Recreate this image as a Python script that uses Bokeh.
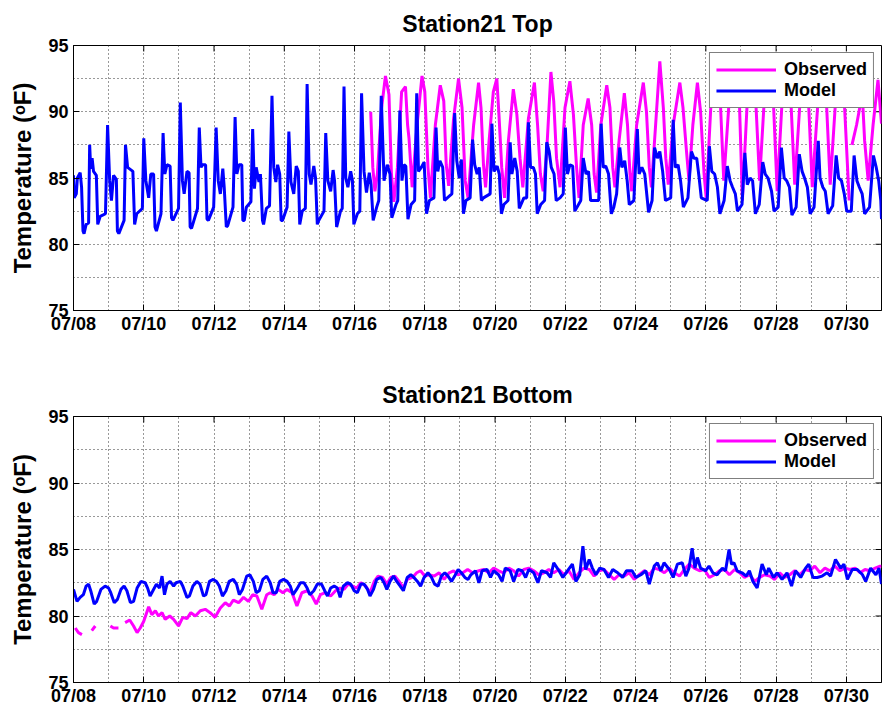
import math
from bokeh.plotting import figure
from bokeh.models import FixedTicker, Legend, LegendItem, Range1d
from bokeh.layouts import column
from bokeh.embed import file_html
from bokeh.resources import INLINE

nan = float("nan")

# ---- axis ticks (x is day of July) ----
x_start, x_end = 8, 31
t_low, t_high = 75, 95
date_ticks = [8, 10, 12, 14, 16, 18, 20, 22, 24, 26, 28, 30]
date_labels = ["07/08", "07/10", "07/12", "07/14", "07/16", "07/18",
               "07/20", "07/22", "07/24", "07/26", "07/28", "07/30"]
day_grid = list(range(9, 31))
temp_ticks = [75, 80, 85, 90, 95]
temp_grid = [77.5, 80, 82.5, 85, 87.5, 90, 92.5]

# ---- Station21 Top: model ----
top_model_t = [
    8.00, 8.02, 8.08, 8.11, 8.19, 8.23, 8.27, 8.30, 8.36, 8.43, 8.46, 8.49, 8.53, 8.57, 8.65,
    8.69, 8.76, 8.91, 8.97, 9.03, 9.08, 9.14, 9.22, 9.25, 9.29, 9.44, 9.48, 9.54, 9.69, 9.74,
    9.80, 9.96, 10.00, 10.06, 10.14, 10.20, 10.28, 10.32, 10.36, 10.49, 10.55, 10.60, 10.66,
    10.75, 10.79, 10.83, 10.99, 11.04, 11.10, 11.15, 11.23, 11.29, 11.32, 11.36, 11.53, 11.58,
    11.63, 11.67, 11.76, 11.80, 11.84, 11.99, 12.06, 12.12, 12.18, 12.25, 12.29, 12.35, 12.39,
    12.54, 12.60, 12.65, 12.71, 12.79, 12.82, 12.86, 12.92, 13.05, 13.10, 13.15, 13.20, 13.28,
    13.32, 13.38, 13.41, 13.49, 13.58, 13.65, 13.70, 13.76, 13.81, 13.87, 13.91, 13.95, 14.08,
    14.13, 14.19, 14.27, 14.34, 14.40, 14.44, 14.51, 14.60, 14.65, 14.71, 14.76, 14.84, 14.89,
    14.94, 14.98, 15.13, 15.18, 15.24, 15.32, 15.39, 15.43, 15.49, 15.60, 15.65, 15.70, 15.75,
    15.81, 15.89, 15.94, 15.98, 16.08, 16.15, 16.20, 16.27, 16.34, 16.42, 16.47, 16.53, 16.63,
    16.69, 16.76, 16.84, 16.93, 17.01, 17.06, 17.18, 17.23, 17.29, 17.35, 17.41, 17.46, 17.52,
    17.61, 17.71, 17.77, 17.82, 17.90, 17.98, 18.05, 18.13, 18.26, 18.32, 18.37, 18.43, 18.51,
    18.56, 18.64, 18.77, 18.85, 18.91, 18.98, 19.04, 19.10, 19.17, 19.29, 19.36, 19.42, 19.49,
    19.55, 19.61, 19.67, 19.86, 19.91, 19.97, 20.06, 20.12, 20.18, 20.25, 20.37, 20.43, 20.48,
    20.56, 20.63, 20.69, 20.82, 20.90, 20.95, 21.01, 21.09, 21.15, 21.20, 21.30, 21.41, 21.47,
    21.54, 21.60, 21.68, 21.74, 21.85, 21.94, 22.00, 22.06, 22.13, 22.21, 22.27, 22.44, 22.51,
    22.59, 22.66, 22.72, 22.95, 23.02, 23.08, 23.15, 23.23, 23.31, 23.38, 23.46, 23.55, 23.61,
    23.69, 23.76, 23.82, 23.95, 24.05, 24.10, 24.18, 24.26, 24.37, 24.47, 24.54, 24.62, 24.69,
    24.77, 24.85, 25.00, 25.07, 25.13, 25.21, 25.28, 25.36, 25.49, 25.59, 25.66, 25.74, 25.81,
    25.87, 26.04, 26.10, 26.17, 26.25, 26.33, 26.40, 26.52, 26.61, 26.69, 26.76, 26.84, 26.90,
    27.03, 27.11, 27.18, 27.26, 27.33, 27.41, 27.52, 27.62, 27.69, 27.77, 27.87, 27.94, 28.06,
    28.15, 28.23, 28.30, 28.38, 28.45, 28.57, 28.66, 28.74, 28.81, 28.89, 28.97, 29.08, 29.20,
    29.25, 29.33, 29.40, 29.48, 29.61, 29.71, 29.78, 29.86, 29.94, 30.01, 30.14, 30.22, 30.30,
    30.37, 30.45, 30.52, 30.66, 30.77, 30.85, 30.92, 30.98, 31.00]
top_model_f = [
    85.2, 83.5, 83.8, 85.0, 85.4, 84.3, 81.0, 80.8, 81.5, 81.6, 87.5, 85.7, 86.5, 85.5, 85.2,
    81.5, 82.1, 82.3, 89.0, 84.8, 83.3, 85.2, 84.9, 81.0, 80.8, 81.8, 87.5, 85.8, 85.5, 81.5,
    82.3, 82.7, 88.0, 84.8, 83.5, 85.3, 85.3, 81.3, 81.0, 82.3, 88.4, 85.3, 86.0,
    85.9, 82.0, 81.8, 82.7, 90.7, 84.8, 83.8, 85.5, 85.4, 81.3, 81.2, 82.7, 88.8,
    85.8, 86.0, 86.0, 81.9, 81.8, 82.8, 88.8, 84.8, 83.8, 85.7, 84.3, 81.3, 81.4,
    82.8, 89.6, 85.3, 86.0, 86.0, 81.8, 81.8, 82.8, 83.2, 88.7, 84.2, 85.8, 84.7,
    85.3, 81.8, 81.5, 82.7, 82.9, 91.2, 85.8, 84.7, 86.0, 85.3, 81.8, 81.8, 82.8,
    88.5, 84.7, 83.8, 85.9, 85.5, 81.5, 82.5, 82.7, 92.1, 85.3, 84.5, 85.9, 85.0,
    81.5, 81.8, 82.5, 88.4, 84.8, 84.0, 85.6, 84.8, 81.3, 82.5, 82.7, 91.9, 85.0,
    84.3, 85.5, 84.8, 81.5, 82.3, 82.5, 91.4, 85.5, 83.9, 85.4, 84.5, 81.8, 82.8,
    83.3, 91.2, 84.8, 86.0, 85.3, 82.0, 83.0, 83.3, 90.1, 84.8, 86.0, 85.9, 81.9,
    83.0, 83.3, 91.4, 85.5, 85.8, 86.2, 82.3, 83.3, 83.5, 88.8, 85.5, 86.3, 85.8,
    83.3, 83.5, 83.8, 89.9, 86.3, 85.0, 86.4, 82.3, 83.3, 83.5, 87.9, 86.0, 85.3,
    85.8, 83.3, 83.5, 83.8, 89.1, 85.5, 85.9, 85.3, 82.3, 83.0, 83.3, 87.7, 85.3,
    86.5, 85.5, 82.7, 83.5, 83.5, 89.2, 85.8, 85.8, 85.3, 82.3, 83.0, 83.3, 87.7,
    87.0, 85.8, 85.3, 83.3, 83.5, 83.8, 88.8, 85.3, 86.0, 85.9, 82.5, 83.3, 86.5,
    85.3, 85.5, 83.3, 83.3, 89.1, 85.8, 85.9, 85.3, 82.3, 82.8, 83.8, 87.3, 85.8,
    86.3, 84.8, 83.0, 83.3, 88.7, 85.3, 85.8, 85.3, 82.4, 83.3, 87.3, 86.5, 87.0,
    85.5, 83.3, 83.5, 89.4, 85.8, 86.0, 84.8, 82.8, 83.5, 87.0, 86.5, 86.5, 85.0,
    83.5, 83.3, 87.4, 85.5, 85.3, 84.3, 82.3, 83.3, 85.9, 84.8, 84.3, 83.8, 82.5,
    83.0, 86.9, 84.5, 85.0, 84.8, 82.3, 83.0, 86.2, 85.3, 85.0, 84.0, 82.5, 82.8,
    87.3, 85.0, 84.8, 84.3, 82.2, 82.8, 86.8, 85.5, 85.0, 84.3, 82.3, 82.8, 87.8,
    85.0, 84.3, 84.0, 82.3, 82.9, 86.7, 85.0, 84.8, 83.8, 82.5, 82.5, 86.7, 84.8,
    84.3, 83.8, 82.3, 82.8, 86.7, 85.8, 84.8, 83.3, 81.9]

# ---- Station21 Top: observed (record starts 07/16) ----
top_obs_t = [
    16.46, 16.52, 16.58, 16.65, 16.77, 16.88, 16.98, 17.05, 17.12, 17.22, 17.34, 17.45, 17.51,
    17.55, 17.64, 17.78, 17.92, 18.00, 18.09, 18.16, 18.30, 18.44, 18.54, 18.61, 18.68, 18.82,
    18.96, 19.06, 19.15, 19.23, 19.39, 19.53, 19.60, 19.67, 19.73, 19.83, 19.95, 20.05, 20.11,
    20.19, 20.27, 20.38, 20.52, 20.62, 20.71, 20.79, 20.95, 21.12, 21.21, 21.29, 21.37, 21.47,
    21.59, 21.67, 21.75, 21.85, 21.99, 22.13, 22.23, 22.32, 22.39, 22.51, 22.65, 22.75, 22.82,
    22.89, 23.01, 23.18, 23.27, 23.35, 23.41, 23.53, 23.68, 23.77, 23.84, 23.89, 24.03, 24.22,
    24.31, 24.39, 24.45, 24.57, 24.69, 24.79, 24.86, 24.93, 25.07, 25.26, 25.35, 25.45, 25.52,
    25.63, 25.76, 25.85, 25.95, 26.01, 26.14, 26.27, 26.42, 26.51, 26.65, 26.78, 26.96, 27.04,
    27.17, 27.30, 27.43, 27.53, 27.65, 27.78, 27.93, 28.03, 28.16, 28.29, 28.43, 28.53, 28.67,
    28.80, 28.93, 29.03, 29.18, 29.31, 29.44, 29.54, 29.68, 29.81, 29.95, 30.08, 30.12, 30.16,
    30.29, 30.38, 30.45, 30.52, 30.62, 30.76, 30.90, 31.00]
top_obs_f = [
    90.0, 85.8, 84.0, 85.3, 90.3, 92.7, 91.3, 85.3, 83.2, 85.8, 91.5, 91.9, 89.0,
    88.0, 84.3, 89.0, 92.7, 91.5, 85.8, 83.5, 89.0, 92.0, 90.8, 86.0, 84.4, 89.5,
    92.5, 90.3, 84.8, 83.5, 89.0, 92.2, 90.3, 86.0, 84.3, 87.8, 91.5, 92.5, 89.8,
    85.8, 83.5, 87.8, 91.7, 89.8, 86.5, 84.3, 89.5, 92.2, 89.0, 85.3, 84.0, 87.0,
    93.0, 90.8, 86.5, 84.3, 90.3, 92.3, 89.8, 85.8, 83.5, 89.0, 91.0, 89.0, 85.3,
    83.9, 89.0, 92.0, 90.3, 85.8, 84.3, 87.8, 91.4, 89.0, 85.3, 84.0, 89.0, 92.2,
    90.0, 85.8, 84.3, 89.0, 93.8, 90.3, 86.5, 84.5, 89.0, 92.2, 90.3, 87.0, 84.8,
    89.0, 92.2, 90.0, 85.3, 83.5, 90.3, 92.0, 90.3, 84.8, 90.3, 92.0, 90.3, 83.3,
    90.3, 92.3, 90.3, 84.8, 90.3, 92.0, 90.3, 84.0, 90.3, 92.2, 90.3, 84.5, 90.3,
    92.0, 90.3, 84.3, 90.3, 92.0, 90.3, 84.5, 90.3, 92.0, 90.3, 83.3, nan, 87.5,
    89.0, 90.3, 91.5, 87.8, 84.8, 89.0, 92.4, 89.1]

# ---- Station21 Bottom: model ----
bot_model_t = [
    8.00, 8.10, 8.19, 8.28, 8.36, 8.43, 8.49, 8.59, 8.66, 8.78, 8.90, 9.00, 9.06, 9.16, 9.25,
    9.35, 9.44, 9.52, 9.62, 9.71, 9.81, 9.92, 10.04, 10.11, 10.18, 10.26, 10.36, 10.45, 10.52,
    10.59, 10.66, 10.75, 10.85, 10.92, 11.04, 11.11, 11.23, 11.30, 11.40, 11.51, 11.60, 11.70,
    11.77, 11.87, 11.98, 12.07, 12.15, 12.24, 12.34, 12.43, 12.55, 12.64, 12.72, 12.81, 12.93,
    13.02, 13.12, 13.20, 13.29, 13.39, 13.50, 13.60, 13.68, 13.77, 13.87, 13.98, 14.08, 14.17,
    14.25, 14.35, 14.46, 14.56, 14.65, 14.73, 14.84, 14.94, 15.06, 15.15, 15.23, 15.32, 15.42,
    15.51, 15.59, 15.68, 15.80, 15.89, 15.99, 16.08, 16.18, 16.27, 16.37, 16.44, 16.54, 16.63,
    16.75, 16.84, 16.92, 17.01, 17.11, 17.20, 17.30, 17.39, 17.50, 17.60, 17.69, 17.79, 17.88,
    17.98, 18.09, 18.19, 18.28, 18.38, 18.47, 18.57, 18.66, 18.76, 18.85, 18.95, 19.04, 19.14,
    19.23, 19.31, 19.44, 19.54, 19.63, 19.77, 19.87, 19.96, 20.10, 20.20, 20.29, 20.43, 20.53,
    20.65, 20.77, 20.87, 20.96, 21.10, 21.22, 21.32, 21.48, 21.58, 21.67, 21.82, 21.93, 22.06,
    22.20, 22.30, 22.41, 22.50, 22.58, 22.68, 22.77, 22.87, 22.98, 23.10, 23.23, 23.35, 23.49,
    23.63, 23.74, 23.90, 24.01, 24.15, 24.29, 24.39, 24.53, 24.62, 24.72, 24.81, 24.96, 25.07,
    25.19, 25.33, 25.43, 25.52, 25.61, 25.69, 25.76, 25.85, 25.99, 26.09, 26.20, 26.32, 26.47,
    26.56, 26.66, 26.73, 26.80, 26.89, 27.03, 27.15, 27.24, 27.34, 27.46, 27.60, 27.72, 27.79,
    27.93, 28.03, 28.17, 28.31, 28.44, 28.55, 28.70, 28.84, 28.93, 29.05, 29.17, 29.31, 29.45,
    29.55, 29.69, 29.84, 29.93, 30.03, 30.17, 30.31, 30.46, 30.55, 30.69, 30.84, 30.93, 31.00]
bot_model_f = [
    82.0, 81.1, 81.4, 81.6, 82.25, 82.4, 81.9, 80.9, 81.1, 82.0, 82.25, 82.1, 81.75, 81.0, 81.25,
    82.0, 82.25, 81.9, 81.0, 81.1, 82.1, 82.6, 82.5, 82.1, 81.5, 81.9, 82.4, 82.1, 83.0,
    81.6, 82.4, 82.6, 82.25, 82.5, 82.6, 82.25, 81.4, 81.5, 82.25, 82.6, 82.4, 81.5,
    81.6, 82.6, 82.75, 82.6, 82.25, 81.5, 81.9, 82.6, 82.75, 82.4, 81.6, 82.0, 83.0,
    83.1, 82.6, 81.75, 81.9, 82.75, 83.0, 82.5, 81.75, 81.75, 82.6, 82.75, 82.6, 82.25,
    81.6, 82.0, 82.5, 82.5, 82.1, 81.6, 81.9, 82.4, 82.4, 81.9, 81.5, 82.1, 82.25,
    82.1, 81.4, 82.25, 82.5, 82.4, 81.9, 81.75, 82.4, 82.4, 82.0, 81.5, 82.0, 82.75,
    82.9, 82.5, 82.0, 82.6, 83.0, 82.6, 82.25, 81.9, 82.9, 83.1, 82.9, 82.6, 82.25,
    82.9, 83.25, 82.9, 82.4, 82.25, 83.0, 83.25, 83.0, 82.6, 83.0, 83.5, 83.25, 82.9,
    82.75, 83.1, 83.4, 82.5, 83.4, 83.5, 82.9, 83.4, 83.1, 82.6, 83.6, 83.4, 82.6,
    83.5, 83.4, 82.9, 83.5, 83.25, 82.5, 83.4, 83.25, 82.9, 84.0, 83.4, 82.9, 83.4,
    83.9, 82.6, 83.1, 85.25, 83.5, 84.25, 83.6, 83.1, 83.6, 83.5, 82.9, 83.5, 83.25,
    82.9, 83.4, 83.4, 82.9, 83.1, 83.4, 82.4, 83.75, 84.0, 83.4, 84.0, 83.5, 82.9,
    83.9, 84.0, 83.0, 83.6, 85.1, 83.6, 84.4, 83.6, 83.4, 83.75, 83.25, 83.1, 83.6,
    83.4, 85.0, 83.9, 84.0, 83.4, 83.25, 83.0, 83.4, 82.6, 82.1, 83.9, 83.1, 83.6,
    82.9, 83.25, 82.75, 83.25, 82.25, 83.4, 82.9, 83.6, 83.9, 82.9, 82.9, 83.0, 83.25,
    83.0, 84.25, 83.6, 83.9, 82.75, 83.5, 83.5, 83.1, 82.6, 83.6, 83.1, 83.6, 82.4]

# ---- Station21 Bottom: observed (gaps in the early record) ----
bot_obs_t = [
    8.05, 8.14, 8.24, 8.38, 8.52, 8.62, 8.84, 9.05, 9.14, 9.28, 9.38, 9.47, 9.60, 9.71, 9.81,
    9.90, 10.00, 10.14, 10.23, 10.33, 10.42, 10.52, 10.61, 10.74, 10.85, 10.99, 11.11, 11.23,
    11.34, 11.47, 11.61, 11.75, 11.89, 12.03, 12.18, 12.32, 12.44, 12.55, 12.70, 12.84, 12.98,
    13.10, 13.22, 13.36, 13.50, 13.60, 13.71, 13.83, 13.96, 14.08, 14.22, 14.36, 14.50, 14.65,
    14.79, 14.91, 15.03, 15.17, 15.32, 15.46, 15.59, 15.70, 15.82, 15.94, 16.06, 16.18, 16.32,
    16.44, 16.56, 16.67, 16.80, 16.92, 17.03, 17.15, 17.27, 17.39, 17.50, 17.65, 17.77, 17.88,
    18.00, 18.12, 18.27, 18.41, 18.55, 18.69, 18.82, 18.95, 19.08, 19.22, 19.36, 19.54, 19.68,
    19.82, 19.96, 20.10, 20.24, 20.39, 20.53, 20.67, 20.82, 20.96, 21.10, 21.24, 21.39, 21.53,
    21.67, 21.82, 21.96, 22.10, 22.25, 22.39, 22.53, 22.68, 22.82, 22.96, 23.10, 23.25, 23.39,
    23.53, 23.68, 23.82, 23.96, 24.10, 24.25, 24.39, 24.53, 24.67, 24.82, 24.96, 25.10, 25.25,
    25.39, 25.53, 25.67, 25.82, 25.96, 26.10, 26.25, 26.39, 26.53, 26.67, 26.82, 26.96, 27.10,
    27.25, 27.39, 27.53, 27.67, 27.82, 27.96, 28.10, 28.24, 28.39, 28.53, 28.67, 28.82, 28.96,
    29.10, 29.25, 29.39, 29.53, 29.67, 29.82, 29.96, 30.10, 30.25, 30.39, 30.53, 30.67, 30.82,
    30.96, 31.00]
bot_obs_f = [
    79.1, 78.75, 78.6, nan, 78.9, 79.25, nan, 79.25, 79.1, 79.1, nan, 79.5, 79.7, 79.25, 78.75,
    79.1, 79.6, 80.7, 80.1, 80.4, 80.0, 80.25, 79.75, 80.0, 79.75, 79.25, 79.9, 79.8,
    80.25, 80.0, 80.4, 80.5, 80.25, 79.9, 80.6, 81.0, 80.75, 81.2, 81.0, 81.4, 81.1,
    81.6, 81.5, 80.5, 81.6, 81.75, 81.6, 82.0, 81.75, 82.0, 81.75, 80.75, 81.75, 81.9,
    81.5, 80.9, 81.6, 81.75, 81.5, 81.9, 82.1, 82.0, 82.4, 82.25, 82.1, 82.5, 82.25,
    81.75, 82.6, 83.0, 82.9, 82.4, 82.9, 83.0, 82.6, 82.1, 82.75, 82.9, 83.25, 83.4,
    83.0, 83.1, 83.0, 83.25, 82.75, 83.25, 83.4, 83.1, 83.25, 83.5, 83.25, 83.4, 83.5,
    83.25, 83.6, 83.4, 83.25, 83.6, 83.4, 83.0, 83.5, 83.6, 83.4, 83.1, 83.25, 83.5,
    83.25, 83.5, 83.1, 83.4, 82.75, 83.25, 83.6, 83.5, 83.0, 83.4, 83.5, 83.1, 82.75,
    83.1, 83.0, 83.25, 82.75, 83.1, 83.4, 83.1, 83.6, 83.5, 83.25, 83.6, 83.25, 83.0,
    83.5, 83.9, 83.6, 83.4, 83.5, 82.9, 83.1, 83.4, 83.5, 83.1, 83.5, 83.25, 82.9,
    83.1, 82.6, 82.9, 83.1, 83.0, 82.75, 83.25, 82.9, 83.1, 83.4, 83.1, 83.5, 83.4,
    83.75, 83.25, 83.6, 83.4, 83.75, 83.4, 83.6, 83.5, 83.6, 83.25, 83.5, 83.4, 83.6,
    83.75, 83.75]

FONT = "Liberation Sans"
OBS_COLOR = "#FF00FF"
MODEL_COLOR = "#0000FF"


def make_panel(title, obs_t, obs_f, mod_t, mod_f, height, border_top, border_bottom):
    p = figure(width=882, height=height,
               x_range=Range1d(x_start, x_end), y_range=Range1d(t_low, t_high),
               output_backend="svg", toolbar_location=None,
               min_border_left=73, min_border_right=1,
               min_border_top=border_top, min_border_bottom=border_bottom,
               background_fill_color="white", border_fill_color="white")

    p.title.text = title
    p.title.align = "center"
    p.title.text_font = FONT
    p.title.text_font_size = "23px"
    p.title.text_font_style = "bold"
    p.title.text_color = "black"
    p.title.standoff = 17

    p.outline_line_color = "black"
    p.outline_line_width = 1

    # labelled axes, ticks pointing into the frame
    xa = p.xaxis[0]
    xa.ticker = FixedTicker(ticks=date_ticks)
    xa.major_label_overrides = {d: s for d, s in zip(date_ticks, date_labels)}
    ya = p.yaxis[0]
    ya.ticker = FixedTicker(ticks=temp_ticks)
    ya.axis_label = "Temperature (\u1d52F)"
    ya.axis_label_text_font = FONT
    ya.axis_label_text_font_size = "24px"
    ya.axis_label_text_font_style = "bold"
    ya.axis_label_text_color = "black"
    ya.axis_label_standoff = 9
    for ax in (xa, ya):
        ax.major_tick_in = 6
        ax.major_tick_out = 0
        ax.minor_tick_line_color = None
        ax.axis_line_color = "black"
        ax.major_tick_line_color = "black"
        ax.major_label_text_font = FONT
        ax.major_label_text_font_size = "18px"
        ax.major_label_text_font_style = "bold"
        ax.major_label_text_color = "black"
    xa.major_label_standoff = 3
    ya.major_label_standoff = 5

    # inward tick marks along the top and right edges of the box
    p.scatter(date_ticks, [t_high] * len(date_ticks), marker="dash", angle=math.pi / 2,
              size=12, line_color="black", line_width=1)
    p.scatter([x_end] * (len(temp_ticks) - 2), temp_ticks[1:-1], marker="dash",
              size=12, line_color="black", line_width=1)

    # dotted grid: every day, every 2.5 degrees
    p.xgrid.ticker = FixedTicker(ticks=day_grid)
    p.ygrid.ticker = FixedTicker(ticks=temp_grid)
    for g in (p.xgrid[0], p.ygrid[0]):
        g.grid_line_color = "#333333"
        g.grid_line_dash = "1 3"
        g.grid_line_width = 1

    r_obs = p.line(obs_t, obs_f, line_color=OBS_COLOR, line_width=3)
    r_mod = p.line(mod_t, mod_f, line_color=MODEL_COLOR, line_width=3)

    legend = Legend(items=[LegendItem(label="Observed", renderers=[r_obs]),
                           LegendItem(label="Model", renderers=[r_mod])],
                    location="top_right")
    legend.margin = 7
    legend.padding = 6
    legend.spacing = 0
    legend.glyph_width = 60
    legend.glyph_height = 21
    legend.label_height = 21
    legend.label_standoff = 8
    legend.label_text_font = FONT
    legend.label_text_font_size = "18px"
    legend.label_text_font_style = "bold"
    legend.label_text_color = "black"
    legend.border_line_color = "black"
    legend.border_line_width = 1
    legend.background_fill_color = "white"
    legend.background_fill_alpha = 1.0
    p.add_layout(legend, "center")
    return p


p_top = make_panel("Station21 Top", top_obs_t, top_obs_f, top_model_t, top_model_f,
                   355, 44, 45)
p_bot = make_panel("Station21 Bottom", bot_obs_t, bot_obs_f, bot_model_t, bot_model_f,
                   354, 61, 27)

page = column(p_top, p_bot, spacing=0)
open("out.html", "w").write(file_html(page, INLINE))
